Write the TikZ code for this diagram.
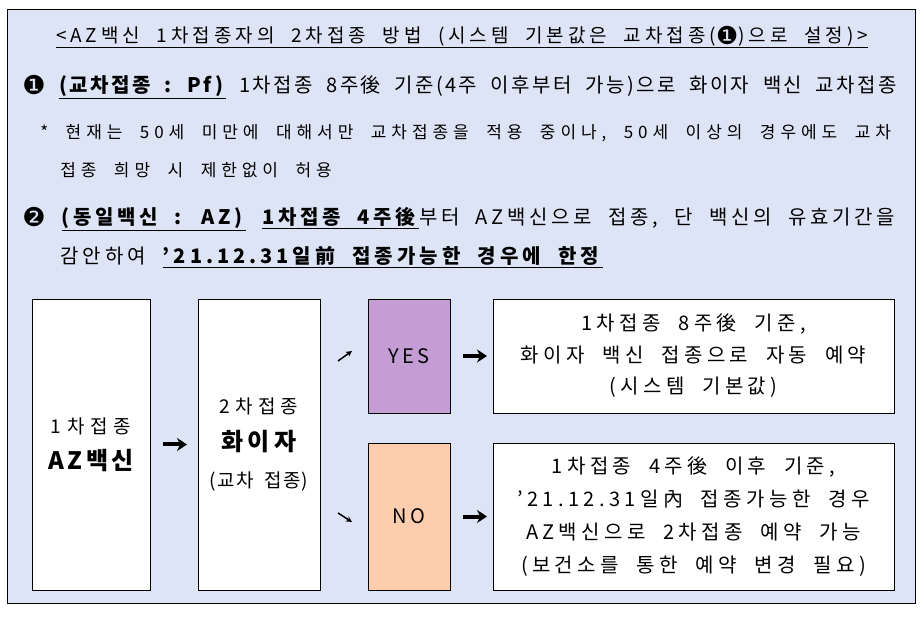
\documentclass[tikz,border=0pt]{standalone}
\usepackage{fontspec}
\setmainfont[WordSpace=2]{Noto Sans CJK KR}
\newfontfamily\dingfont{DejaVu Sans}
\usepackage{tikz}
\usetikzlibrary{arrows.meta, positioning}

\definecolor{panelbg}{RGB}{221,228,246}
\definecolor{yesfill}{RGB}{196,157,213}
\definecolor{nofill}{RGB}{253,205,174}
\newcommand{\bigding}[1]{\raisebox{-0.08em}{\scalebox{1.3}{\dingfont #1}}}
\newcommand{\spread}[1]{\addfontfeatures{LetterSpace=#1}}

\begin{document}
\begin{tikzpicture}
            [x=1pt, y=-1pt, >={Stealth[length=10pt, width=13pt]}, semithick,
            stepbox/.style={rectangle, align=center, draw=black, fill=white, inner sep=0pt, outer sep=0pt},
            textline/.style={anchor=west, inner sep=0pt, font=\fontsize{20}{24}\selectfont\spread{#1}},
            noteline/.style={anchor=west, inner sep=0pt, font=\fontsize{17}{20}\selectfont\spread{29}},
            resultbox/.style={stepbox, minimum width=401, font=\fontsize{20}{#1}\selectfont\spread{22}},
            bigarrow/.style={->, line width=4pt},
            tinyarrow/.style={->, line width=1.5pt, >={Stealth[length=6pt, width=6pt]}}]

            \useasboundingbox (0,0) rectangle (922,620);
            \node[draw=black, line width=1pt, fill=panelbg, minimum width=908, minimum height=593, inner sep=0pt] (panel) at (461,306.5) {};

            % heading and rules
            \node[inner sep=0pt, font=\fontsize{19}{22}\selectfont\spread{21}] (title) at (462,37)
                {\underline{<AZ백신 1차접종자의 2차접종 방법 (시스템 기본값은 교차접종(\bigding{❶})으로 설정)>}};
            \node[textline=12] (rule1) at (22,87)
                {\bigding{❶} \underline{\textbf{(교차접종 : Pf)}} 1차접종 8주後 기준(4주 이후부터 가능)으로 화이자 백신 교차접종};
            \node[noteline] (note1) at (40,133) {*\ 현재는 50세 미만에 대해서만 교차접종을 적용 중이나, 50세 이상의 경우에도 교차};
            \node[noteline] (note2) at (60,170) {접종 희망 시 제한없이 허용};
            \node[textline=18.5] (rule2) at (22,219)
                {\bigding{❷} \underline{\textbf{(동일백신 : AZ)}} \underline{\textbf{1차접종 4주後}}부터 AZ백신으로 접종, 단 백신의 유효기간을};
            \node[textline=20] (rule2b) at (60,257) {감안하여 \underline{\textbf{'21.12.31일前 접종가능한 경우에 한정}}};

            % flow
            \node[stepbox, minimum width=118, minimum height=291, font=\fontsize{19}{36}\selectfont] (az) at (91,444.5)
                {{\spread{30}1차접종}\\{\fontsize{24}{36}\selectfont\spread{15}\bfseries AZ백신}};
            \node[stepbox, minimum width=122, minimum height=291, font=\fontsize{19}{37}\selectfont] (pf) [right=48pt of az]
                {{\spread{28}2차접종}\\{\fontsize{24}{37}\selectfont\spread{20}\bfseries 화이자}\\{\spread{6}(교차 접종)}};
            \node[stepbox, fill=yesfill, minimum width=82, minimum height=114, font=\fontsize{20}{24}\selectfont\spread{15}] (yes) at (409,356) {YES};
            \node[stepbox, fill=nofill, minimum width=82, minimum height=147, font=\fontsize{20}{24}\selectfont\spread{15}] (no) [below=30pt of yes] {NO};
            \node[resultbox=31.5, minimum height=114] (resY) [right=43pt of yes]
                {1차접종 8주後 기준,\\화이자 백신 접종으로 자동 예약\\(시스템 기본값)};
            \node[resultbox=33, minimum height=147] (resN) [right=43pt of no]
                {1차접종 4주後 이후 기준,\\'21.12.31일內 접종가능한 경우\\AZ백신으로 2차접종 예약 가능\\(보건소를 통한 예약 변경 필요)};

            \draw[bigarrow, shorten <=13pt, shorten >=11pt] (az) -- (pf);
            \draw[bigarrow, shorten <=13pt, shorten >=6pt] (yes) -- (resY);
            \draw[bigarrow, shorten <=13pt, shorten >=6pt] (no) -- (resN);

            \coordinate (upA) at (338,361);
            \coordinate (upB) at (352,351);
            \coordinate (dnA) at (338,513);
            \coordinate (dnB) at (352,522);
            \draw[tinyarrow] (upA) -- (upB);
            \draw[tinyarrow] (dnA) -- (dnB);
        \end{tikzpicture}
\end{document}
